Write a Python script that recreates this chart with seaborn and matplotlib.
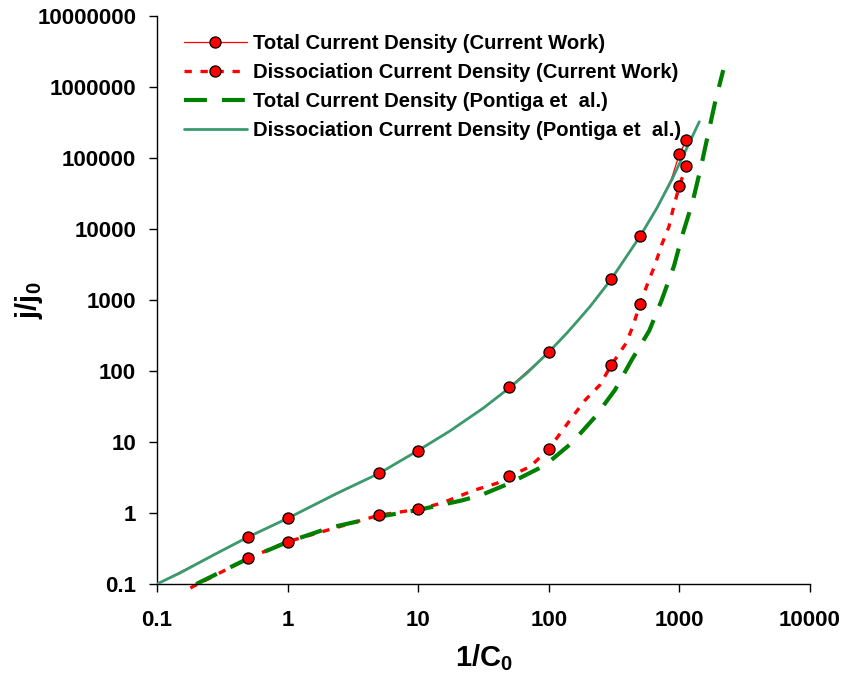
import matplotlib
matplotlib.use("Agg")
import matplotlib.pyplot as plt
from matplotlib.lines import Line2D
import seaborn as sns
import pandas as pd

# ---- data -------------------------------------------------------------
# Total current density (current work): curve and marked points
total_cw_x = [0.1, 0.5, 1, 5, 10, 17.5, 31.5, 50, 100, 137, 168, 207, 300, 500,
              670, 873, 1000, 1130]
total_cw_y = [0.1, 0.463, 0.84, 3.62, 7.54, 14.3, 30, 58.9, 185, 335, 515, 805,
              1977, 7965, 19500, 52000, 113800, 179000]
total_cw_mx = [0.5, 1, 5, 10, 50, 100, 300, 500, 1000, 1130]
total_cw_my = [0.463, 0.84, 3.62, 7.54, 58.9, 185, 1977, 7965, 113800, 179000]

# Dissociation current density (current work): curve and marked points
diss_cw_x = [0.18, 0.5, 1, 5, 10, 15, 27, 40, 50, 72, 100, 150, 190, 246, 300,
             390, 439, 500, 578, 650, 731, 832, 898, 1000, 1130]
diss_cw_y = [0.088, 0.23, 0.394, 0.93, 1.13, 1.37, 2.1, 2.62, 3.29, 4.5, 7.97, 22,
             39, 63.5, 120, 245, 421, 879, 1811, 3110, 5960, 10800, 19600, 40700, 77100]
diss_cw_mx = [0.5, 1, 5, 10, 50, 100, 300, 500, 1000, 1130]
diss_cw_my = [0.23, 0.394, 0.93, 1.13, 3.29, 7.97, 120, 879, 40700, 77100]

# Total current density (Pontiga et al.)
total_p_x = [0.2, 0.49, 1.0, 2.1, 4.9, 9.9, 21.5, 30.6, 49.5, 93.5, 150, 226, 321,
             431, 588, 732, 909, 1060, 1264, 1464, 1664, 1893, 2167]
total_p_y = [0.1, 0.225, 0.39, 0.62, 0.88, 1.1, 1.5, 1.8, 2.6, 4.7, 9.7, 22.5, 54,
             143, 370, 1000, 3015, 8510, 24300, 75400, 223000, 656000, 1730000]

# Dissociation current density (Pontiga et al.)
diss_p_x = [0.1, 0.15, 0.286, 0.5, 1, 2.38, 5, 10, 17.5, 31.5, 50, 67.8, 100,
            137, 168, 207, 300, 500, 670, 873, 1420]
diss_p_y = [0.1, 0.143, 0.27, 0.46, 0.84, 1.89, 3.6, 7.6, 14.3, 30, 58, 93, 185,
            340, 520, 810, 1950, 7900, 19500, 49000, 324000]

x_ticks = [0.1, 1, 10, 100, 1000, 10000]
x_tick_labels = ["0.1", "1", "10", "100", "1000", "10000"]
y_ticks = [0.1, 1, 10, 100, 1000, 10000, 100000, 1000000, 10000000]
y_tick_labels = ["0.1", "1", "10", "100", "1000", "10000", "100000",
                 "1000000", "10000000"]

labels = ["Total Current Density (Current Work)",
          "Dissociation Current Density (Current Work)",
          "Total Current Density (Pontiga et  al.)",
          "Dissociation Current Density (Pontiga et  al.)"]

# ---- style ------------------------------------------------------------
sns.set_theme(style="ticks")
plt.rcParams["font.family"] = ["Liberation Sans", "DejaVu Sans"]
plt.rcParams["font.weight"] = "bold"
plt.rcParams["text.color"] = "black"
plt.rcParams["axes.labelcolor"] = "black"
plt.rcParams["xtick.color"] = "black"
plt.rcParams["ytick.color"] = "black"
plt.rcParams["mathtext.fontset"] = "custom"
plt.rcParams["mathtext.rm"] = "Liberation Sans:bold"
plt.rcParams["mathtext.it"] = "Liberation Sans:bold"
plt.rcParams["mathtext.bf"] = "Liberation Sans:bold"

RED = "#ff0000"
GREEN_DASH = "#008000"
GREEN_SOLID = "#3a9a6e"

fig = plt.figure(figsize=(8.5, 6.79), dpi=100)
ax = fig.add_axes([157 / 850, 1 - 584 / 679, (810 - 157) / 850, (584 - 16) / 679])
ax.set_xscale("log")
ax.set_yscale("log")

df_tcw = pd.DataFrame({"x": total_cw_x, "y": total_cw_y})
df_dcw = pd.DataFrame({"x": diss_cw_x, "y": diss_cw_y})
df_tp = pd.DataFrame({"x": total_p_x, "y": total_p_y})
df_dp = pd.DataFrame({"x": diss_p_x, "y": diss_p_y})
df_tcw_m = pd.DataFrame({"x": total_cw_mx, "y": total_cw_my})
df_dcw_m = pd.DataFrame({"x": diss_cw_mx, "y": diss_cw_my})

sns.lineplot(data=df_tcw, x="x", y="y", ax=ax, color=RED, linewidth=0.9,
             sort=False, estimator=None, zorder=2)
sns.lineplot(data=df_dcw, x="x", y="y", ax=ax, color=RED, linewidth=2.4,
             linestyle=(0, (2.2, 2.6)), sort=False, estimator=None,
             zorder=2, clip_on=False)
sns.lineplot(data=df_tp, x="x", y="y", ax=ax, color=GREEN_DASH, linewidth=3.0,
             linestyle=(0, (5.5, 3.6)), sort=False, estimator=None, zorder=3)
sns.lineplot(data=df_dp, x="x", y="y", ax=ax, color=GREEN_SOLID, linewidth=2.0,
             sort=False, estimator=None, zorder=4)

for dfm in (df_tcw_m, df_dcw_m):
    sns.scatterplot(data=dfm, x="x", y="y", ax=ax, color=RED, s=64,
                    edgecolor="black", linewidth=0.9, zorder=5, clip_on=False)

ax.set_xlim(0.1, 10000)
ax.set_ylim(0.1, 10000000)
ax.set_xticks(x_ticks, x_tick_labels)
ax.set_yticks(y_ticks, y_tick_labels)
ax.minorticks_off()
ax.tick_params(axis="both", which="major", direction="out", length=6, width=1,
               labelsize=16, colors="black")
ax.tick_params(axis="x", pad=13)
ax.tick_params(axis="y", pad=9)
for lab in ax.get_xticklabels() + ax.get_yticklabels():
    lab.set_fontweight("bold")

for side in ("top", "right"):
    ax.spines[side].set_visible(False)
for side in ("left", "bottom"):
    ax.spines[side].set_color("black")
    ax.spines[side].set_linewidth(1.0)

ax.set_xlabel(r"$\mathrm{1/C_0}$", fontsize=21)
ax.set_ylabel(r"$\mathrm{j/j_0}$", fontsize=21)
ax.xaxis.set_label_coords(0.5, -0.103)
ax.yaxis.set_label_coords(-0.172, 0.5)

handles = [
    Line2D([], [], color=RED, linewidth=0.9, marker="o", markersize=8,
           markerfacecolor=RED, markeredgecolor="black", markeredgewidth=0.9),
    Line2D([], [], color=RED, linewidth=2.4, linestyle=(0, (2.2, 2.6)),
           marker="o", markersize=8, markerfacecolor=RED,
           markeredgecolor="black", markeredgewidth=0.9),
    Line2D([], [], color=GREEN_DASH, linewidth=3.0, linestyle=(0, (5.5, 3.6))),
    Line2D([], [], color=GREEN_SOLID, linewidth=2.0),
]
fig.legend(handles, labels, loc="upper left",
           bbox_to_anchor=(184 / 850, 1 - 34 / 679), frameon=False,
           prop={"family": "Liberation Sans", "weight": "bold", "size": 14.6},
           handlelength=3.1, handletextpad=0.32, labelspacing=0.49,
           borderpad=0, borderaxespad=0, markerscale=1.0)

fig.savefig("out.png", dpi=100)
